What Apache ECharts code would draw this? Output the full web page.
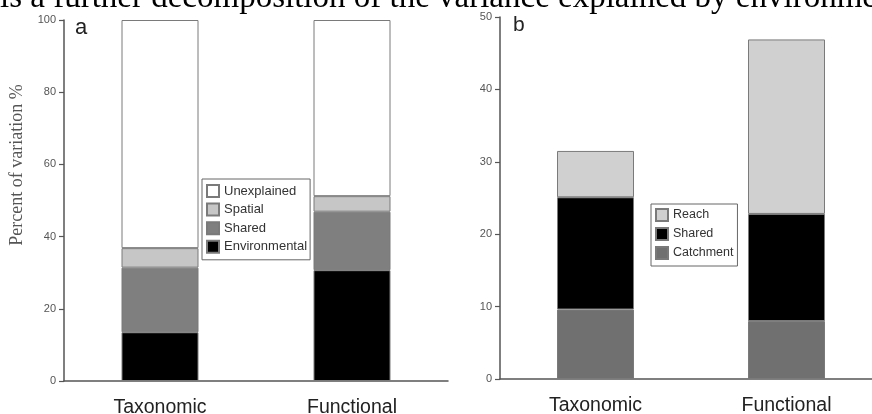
<!DOCTYPE html>
<html>
<head>
<meta charset="utf-8">
<script src="https://cdn.jsdelivr.net/npm/echarts@6/dist/echarts.min.js"></script>
<style>
html,body{margin:0;padding:0;background:#fff;}
#chart{width:872px;height:414px;}
</style>
</head>
<body>
<div id="chart"></div>
<script>
// ---- data ----
const categories = ['Taxonomic', 'Functional'];
// panel a (percent of variation)
const aEnvironmental = [13.5, 30.7];
const aShared = [17.9, 16.2];
const aSpatial = [5.4, 4.3];
const aUnexplained = [63.2, 48.8];
// panel b
const bCatchment = [9.6, 8.0];
const bShared = [15.5, 14.8];
const bReach = [6.4, 24.1];
const yTicksA = {min: 0, max: 100, interval: 20};
const yTicksB = {min: 0, max: 50, interval: 10};
const captionText = 'is a further decomposition of the variance explained by environmental variables';

const chart = echarts.init(document.getElementById('chart'), null, {renderer: 'canvas'});
const axisColor = '#555';
const border = {borderColor: '#7a7a7a', borderWidth: 1};
function bar(name, data, color, idx) {
  return {
    name: name, type: 'bar', stack: 'stk' + idx, data: data,
    xAxisIndex: idx, yAxisIndex: idx, barWidth: 77,
    itemStyle: Object.assign({color: color}, border),
    emphasis: {disabled: true}
  };
}
function xAx(idx) {
  return {
    type: 'category', gridIndex: idx, data: categories,
    axisLine: {lineStyle: {color: axisColor, width: 1.5}},
    axisTick: {alignWithLabel: true, length: 6, lineStyle: {color: axisColor, width: 1.2}},
    axisLabel: {fontFamily: 'Liberation Sans, Arial', fontSize: 19.5, color: '#222', margin: 17}
  };
}
function yAx(idx, t) {
  return {
    type: 'value', gridIndex: idx, min: t.min, max: t.max, interval: t.interval,
    splitLine: {show: false},
    axisLine: {show: true, lineStyle: {color: axisColor, width: 1.5}},
    axisTick: {show: true, length: 5, lineStyle: {color: axisColor, width: 1.2}},
    axisLabel: {fontFamily: 'Liberation Sans, Arial', fontSize: 11, color: '#555', margin: 8}
  };
}
chart.setOption({
  animation: false,
  backgroundColor: '#fff',
  grid: [
    {left: 64, top: 20, width: 384, height: 361, outerBoundsMode: 'none'},
    {left: 500, top: 17, width: 382, height: 362, outerBoundsMode: 'none'}
  ],
  xAxis: [xAx(0), xAx(1)],
  yAxis: [yAx(0, yTicksA), yAx(1, yTicksB)],
  legend: [
    {
      data: ['Unexplained', 'Spatial', 'Shared', 'Environmental'],
      orient: 'vertical', left: 202, top: 179,
      itemWidth: 12, itemHeight: 12, itemGap: 4.6, padding: [5, 3, 6, 4],
      borderColor: '#666', borderWidth: 1, backgroundColor: '#fff',
      textStyle: {fontFamily: 'Liberation Sans, Arial', fontSize: 13, color: '#333'},
      icon: 'rect', selectedMode: false, z: 10
    },
    {
      data: ['Reach', 'Shared ', 'Catchment'],
      orient: 'vertical', left: 651, top: 204,
      itemWidth: 12, itemHeight: 12, itemGap: 5, padding: [4, 4, 6, 4],
      borderColor: '#666', borderWidth: 1, backgroundColor: '#fff',
      textStyle: {fontFamily: 'Liberation Sans, Arial', fontSize: 12.5, color: '#333'},
      icon: 'rect', selectedMode: false, z: 10
    }
  ],
  series: [
    bar('Environmental', aEnvironmental, '#000000', 0),
    bar('Shared', aShared, '#7f7f7f', 0),
    bar('Spatial', aSpatial, '#c6c6c6', 0),
    bar('Unexplained', aUnexplained, '#ffffff', 0),
    bar('Catchment', bCatchment, '#707070', 1),
    bar('Shared ', bShared, '#000000', 1),
    bar('Reach', bReach, '#d0d0d0', 1)
  ],
  graphic: [
    {type: 'text', left: 0, top: -18, silent: true,
     style: {text: captionText, font: '33px "Liberation Serif", "Times New Roman", serif', fill: '#000'}},
    {type: 'text', x: 17.5, y: 165, rotation: Math.PI / 2, silent: true,
     style: {text: 'Percent of variation %', font: '18px "Liberation Serif", "Times New Roman", serif',
             fill: '#555', align: 'center', verticalAlign: 'middle'}},
    {type: 'text', x: 75, y: 17, silent: true,
     style: {text: 'a', font: '22px "Liberation Sans", Arial, sans-serif', fill: '#222'}},
    {type: 'text', x: 513, y: 15, silent: true,
     style: {text: 'b', font: '21px "Liberation Sans", Arial, sans-serif', fill: '#222'}}
  ]
});
</script>
</body>
</html>
